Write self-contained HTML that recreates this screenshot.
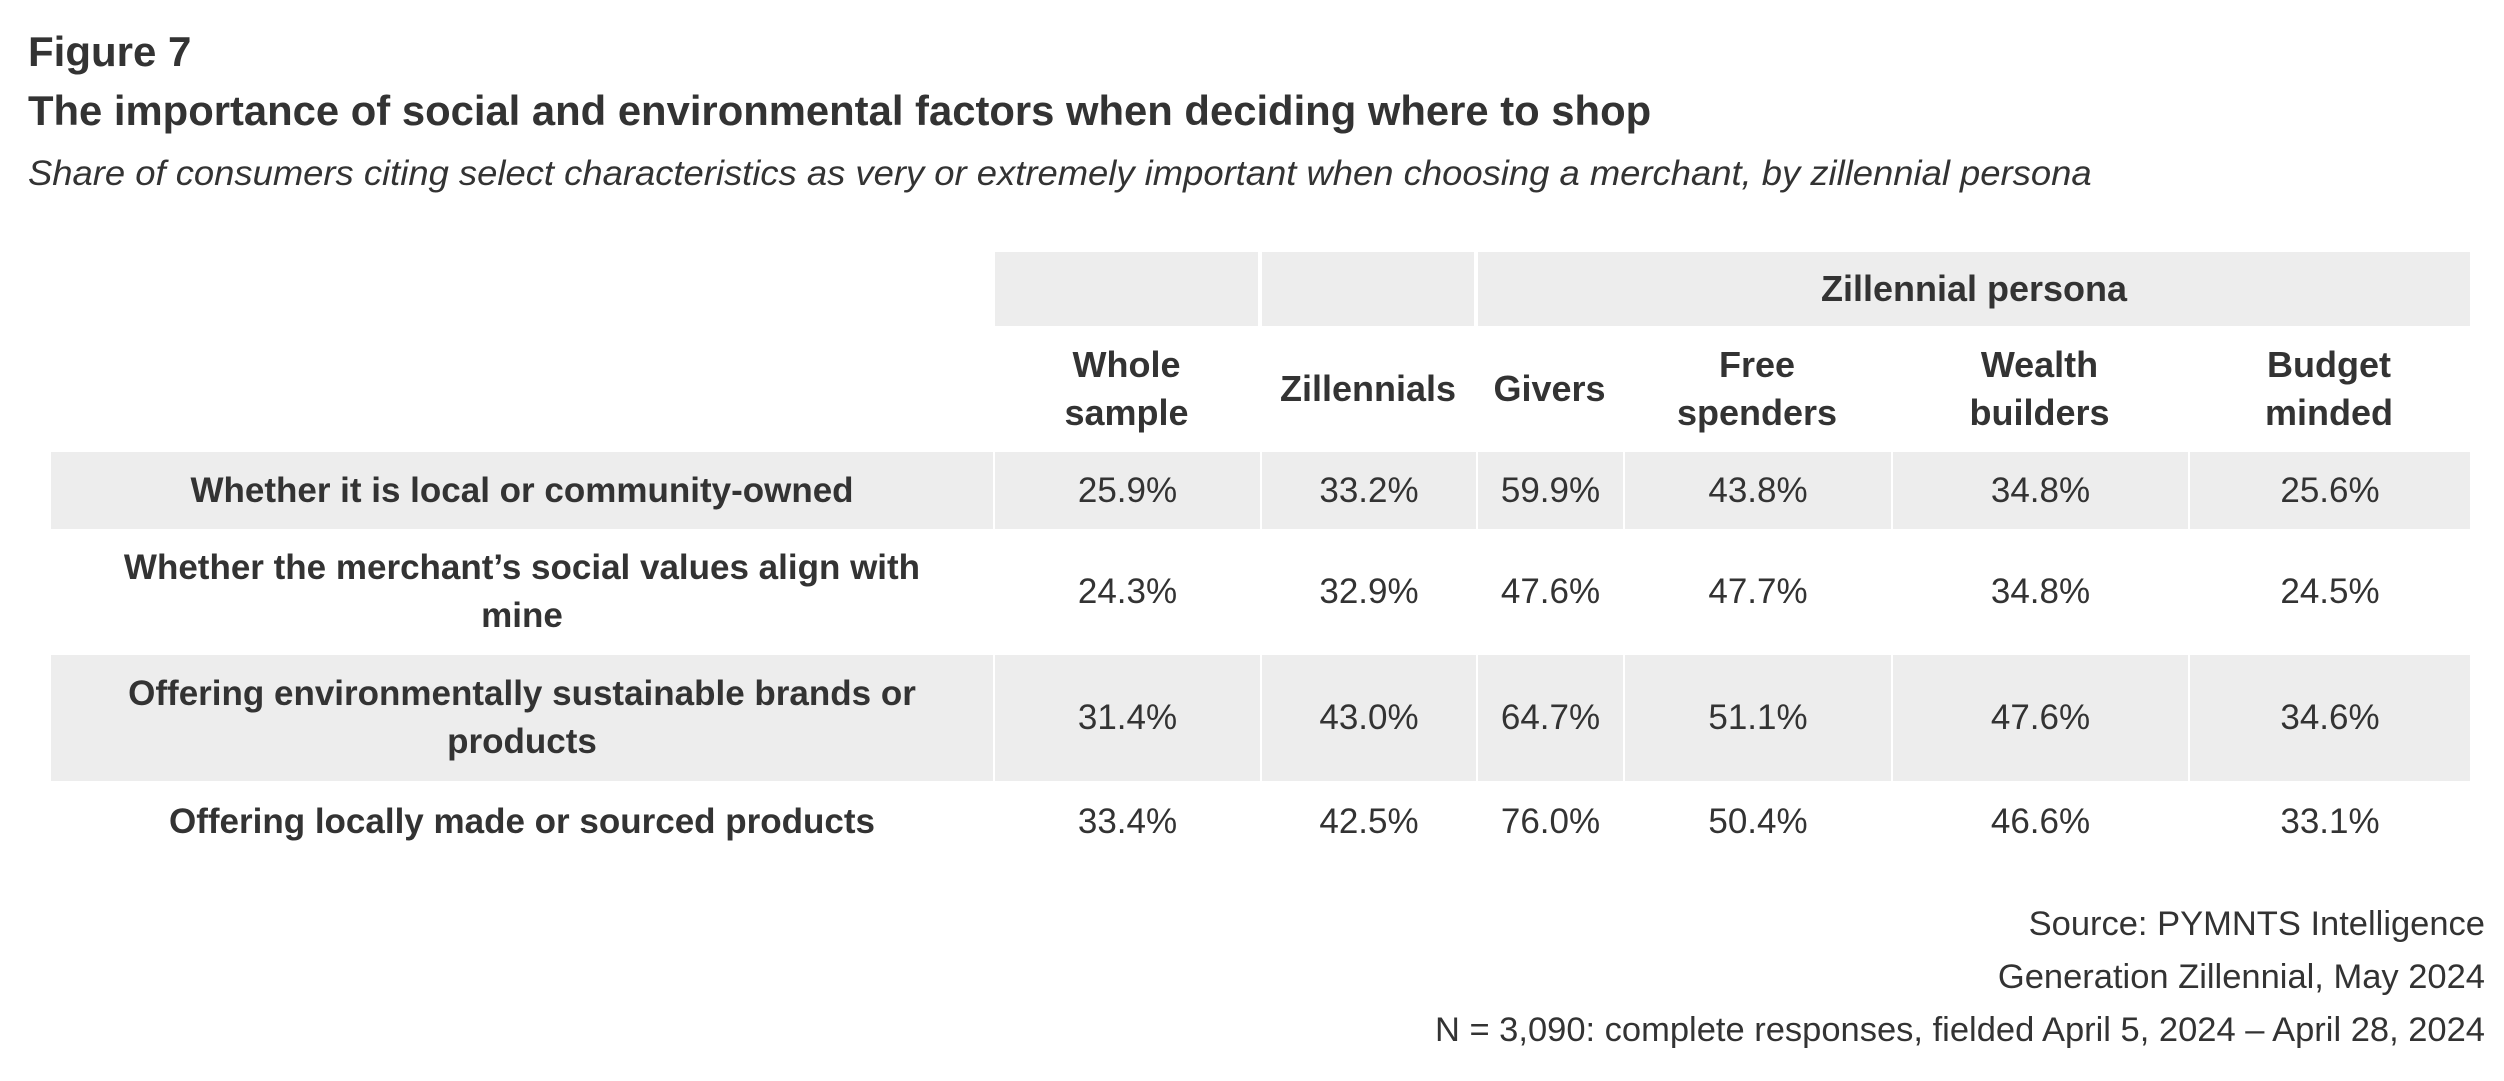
<!DOCTYPE html>
<html><head><meta charset="utf-8"><style>
body{margin:0;width:2504px;height:1081px;background:#fff;font-family:"Liberation Sans",sans-serif;color:#333;position:relative;overflow:hidden}
.a{position:absolute}
.t{white-space:nowrap;transform-origin:left center}
.c{position:absolute;display:flex;align-items:center;justify-content:center;text-align:center;line-height:48px}
.g{background:#ededed}
.b{font-weight:bold;font-size:35px}
.v{font-size:35px}
.h{font-weight:bold;font-size:36px}
</style></head><body>
<div class="a t" style="left:28px;top:28px;font-size:42px;font-weight:bold">Figure 7</div>
<div class="a t" style="left:28px;top:87px;font-size:42px;font-weight:bold;transform:scaleX(0.995)">The importance of social and environmental factors when deciding where to shop</div>
<div class="a t" style="left:28px;top:154px;font-size:35px;font-style:italic;transform:scaleX(1.04)">Share of consumers citing select characteristics as very or extremely important when choosing a merchant, by zillennial persona</div>

<div class="c g" style="left:995px;top:252px;width:263px;height:74px"></div>
<div class="c g" style="left:1262px;top:252px;width:212px;height:74px"></div>
<div class="c g h" style="left:1478px;top:252px;width:992px;height:74px">Zillennial persona</div>

<div class="c h" style="left:993px;top:326px;width:267px;height:126px">Whole<br>sample</div>
<div class="c h" style="left:1260px;top:326px;width:216px;height:126px">Zillennials</div>
<div class="c h" style="left:1476px;top:326px;width:147px;height:126px">Givers</div>
<div class="c h" style="left:1623px;top:326px;width:268px;height:126px">Free<br>spenders</div>
<div class="c h" style="left:1891px;top:326px;width:297px;height:126px">Wealth<br>builders</div>
<div class="c h" style="left:2188px;top:326px;width:282px;height:126px">Budget<br>minded</div>

<div id="rows"></div>
<script>
const cols=[[51,993],[993,1260],[1260,1476],[1476,1623],[1623,1891],[1891,2188],[2188,2470]];
const rows=[
[452,529,true,["Whether it is local or community-owned","25.9%","33.2%","59.9%","43.8%","34.8%","25.6%"]],
[529,655,false,["Whether the merchant’s social values align with<br>mine","24.3%","32.9%","47.6%","47.7%","34.8%","24.5%"]],
[655,781,true,["Offering environmentally sustainable brands or<br>products","31.4%","43.0%","64.7%","51.1%","47.6%","34.6%"]],
[781,862,false,["Offering locally made or sourced products","33.4%","42.5%","76.0%","50.4%","46.6%","33.1%"]]];
let h='';
rows.forEach(r=>{cols.forEach((c,i)=>{
 const l=c[0]+(i>0?2:0), w=c[1]-c[0]-(i>0?2:0);
 h+=`<div class="c ${r[2]?'g':''} ${i==0?'b':'v'}" style="left:${l}px;top:${r[0]}px;width:${w}px;height:${r[1]-r[0]}px">${r[3][i]}</div>`;
});});
document.getElementById('rows').innerHTML=h;
</script>

<div class="a" style="right:19px;top:898px;font-size:34.5px;text-align:right;line-height:53px">Source: PYMNTS Intelligence<br>Generation Zillennial, May 2024<br>N = 3,090: complete responses, fielded April 5, 2024 – April 28, 2024</div>
</body></html>
